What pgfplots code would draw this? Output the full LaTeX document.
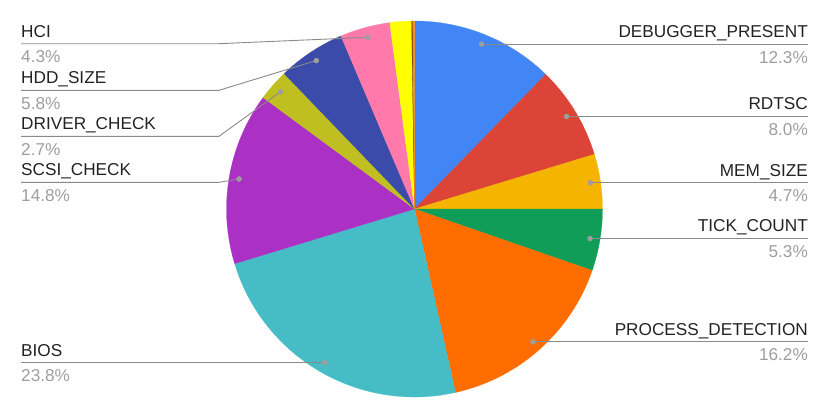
\documentclass[border=0pt]{standalone}
\usepackage{pgfplots}
\pgfplotsset{compat=1.18}
\usepackage{pgfplotstable}
\usepackage{fontspec}
\setmainfont{Liberation Sans}

\definecolor{c0}{HTML}{4285F4}
\definecolor{c1}{HTML}{DB4437}
\definecolor{c2}{HTML}{F4B400}
\definecolor{c3}{HTML}{0F9D58}
\definecolor{c4}{HTML}{FF6D00}
\definecolor{c5}{HTML}{46BDC6}
\definecolor{c6}{HTML}{AB30C4}
\definecolor{c7}{HTML}{C0BF22}
\definecolor{c8}{HTML}{3B4BA9}
\definecolor{c9}{HTML}{FF79AA}
\definecolor{c10}{HTML}{FFFF00}
\definecolor{c11}{HTML}{7F3F00}
\definecolor{c12}{HTML}{FF8C00}
\definecolor{linegray}{HTML}{8A8A8A}
\definecolor{dotgray}{HTML}{9E9E9E}
\definecolor{pctgray}{HTML}{9E9E9E}
\definecolor{txt}{HTML}{222222}

% slice shares in percent, clockwise from the top
\pgfplotstableread{
value
12.3
8.0
4.7
5.3
16.2
23.8
14.8
2.7
5.8
4.3
1.85
0.10
0.15
}\piedata

\newcommand\slice[1]{%
  \filldraw[fill=c#1, draw=c#1, line width=0.2bp]
    (axis cs:414.5,210) -- ++(\csname sa#1\endcsname:188bp)
    arc[start angle=\csname sa#1\endcsname, end angle=\csname ea#1\endcsname, radius=188bp] -- cycle;}
\newcommand\rlabel[3]{%
  \draw[linegray, line width=0.9bp] (axis cs:\csname dx#1\endcsname,\csname dy#1\endcsname) -- (axis cs:808,\csname dy#1\endcsname);
  \node[anchor=base east, inner sep=0pt, text=txt, yshift=6.5bp] at (axis cs:808,\csname dy#1\endcsname) {#2};
  \node[anchor=base east, inner sep=0pt, text=pctgray, yshift=-19bp] at (axis cs:808,\csname dy#1\endcsname) {#3};}
\newcommand\llabel[4]{%
  \draw[linegray, line width=0.9bp] (axis cs:\csname dx#1\endcsname,\csname dy#1\endcsname) -- (axis cs:219,#2) -- (axis cs:21,#2);
  \node[anchor=base west, inner sep=0pt, text=txt, yshift=6.5bp] at (axis cs:21,#2) {#3};
  \node[anchor=base west, inner sep=0pt, text=pctgray, yshift=-19bp] at (axis cs:21,#2) {#4};}

\begin{document}
\begin{tikzpicture}[font=\fontsize{17.2bp}{20bp}\selectfont]
\pgfplotstablegetrowsof{\piedata}
\pgfmathtruncatemacro\nrows{\pgfplotsretval-1}
\xdef\cum{90}
\gdef\dotlist{}
\pgfplotsforeachungrouped \i in {0,...,\nrows}{%
  \pgfplotstablegetelem{\i}{value}\of\piedata
  \pgfmathsetmacro\endang{\cum-3.6*\pgfplotsretval}%
  \pgfmathsetmacro\midang{(\cum+\endang)/2}%
  \pgfmathsetmacro\dx{414.5+178*cos(\midang)}%
  \pgfmathsetmacro\dy{210+178*sin(\midang)}%
  \expandafter\xdef\csname sa\i\endcsname{\cum}%
  \expandafter\xdef\csname ea\i\endcsname{\endang}%
  \expandafter\xdef\csname dx\i\endcsname{\dx}%
  \expandafter\xdef\csname dy\i\endcsname{\dy}%
  \ifnum\i<10 \xdef\dotlist{\dotlist(\dx,\dy)}\fi
  \xdef\cum{\endang}%
}
\begin{axis}[x=1bp, y=1bp, xmin=0, xmax=830, ymin=0, ymax=419,
  hide axis, scale only axis, clip=false]
\path (axis cs:0,0) rectangle (axis cs:830,419);
\slice{0}\slice{1}\slice{2}\slice{3}\slice{4}\slice{5}\slice{6}
\slice{7}\slice{8}\slice{9}\slice{10}\slice{11}\slice{12}
\rlabel{0}{DEBUGGER\_PRESENT}{12.3\%}
\rlabel{1}{RDTSC}{8.0\%}
\rlabel{2}{MEM\_SIZE}{4.7\%}
\rlabel{3}{TICK\_COUNT}{5.3\%}
\rlabel{4}{PROCESS\_DETECTION}{16.2\%}
\llabel{5}{\csname dy5\endcsname}{BIOS}{23.8\%}
\llabel{6}{236.7}{SCSI\_CHECK}{14.8\%}
\llabel{7}{282.7}{DRIVER\_CHECK}{2.7\%}
\llabel{8}{328.7}{HDD\_SIZE}{5.8\%}
\llabel{9}{375.3}{HCI}{4.3\%}
\edef\temp{\noexpand\addplot[only marks, mark=*, mark size=2.5bp,
  mark options={fill=dotgray, draw=dotgray}] coordinates {\dotlist};}
\temp
\end{axis}
\end{tikzpicture}
\end{document}
